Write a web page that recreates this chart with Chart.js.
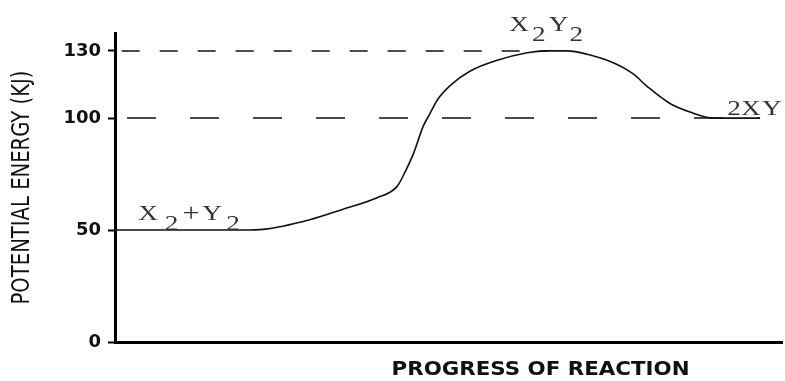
<!DOCTYPE html>
<html>
<head>
<meta charset="utf-8">
<script src="https://cdn.jsdelivr.net/npm/chart.js@4/dist/chart.umd.min.js"></script>
<style>
  html, body { margin: 0; padding: 0; background: #fff; }
  #wrap { width: 785px; height: 381px; }
</style>
</head>
<body>
<div id="wrap"><canvas id="chart"></canvas></div>
<script>
// data (progress 0-100 along the x axis, energy in kJ)
const progress = [0, 19.2, 22.2, 29.2, 34.2, 39.3, 42.3, 43.5, 44.7, 46.2, 47.2, 48.4, 50.2, 53.2, 57.3, 61.8, 64.8, 67.8, 70.8, 74.7, 77.7, 79.8, 83.2, 86.2, 89.7, 96.7];
const energy = [50, 50, 50.3, 54.6, 59.3, 64.4, 69.5, 76, 83.8, 96.3, 101.9, 108.4, 114.4, 120.9, 125.8, 129.2, 130, 130, 128.5, 124.7, 119.7, 114.1, 106.5, 102.7, 100, 100];
const yTicks = [0, 50, 100, 130];

// dashed reference levels
const levelValues = [130, 100];
const levelStart = [1, 1.8];
const levelEnd = [64.8, 96.7];

const yTitle = 'POTENTIAL ENERGY (KJ)';
const xTitle = 'PROGRESS OF REACTION';

// chemical labels: text parts and which of them are subscripts
const reactantParts = ['X', '2', '+', 'Y', '2'];
const reactantSub = [0, 1, 0, 0, 1];
const complexParts = ['X', '2', 'Y', '2'];
const complexSub = [0, 1, 0, 1];
const productParts = ['2', 'X', 'Y'];
const productSub = [0, 0, 0];

function levelDataset(i) {
    return {
        data: [{ x: levelStart[i], y: levelValues[i] }, { x: levelEnd[i], y: levelValues[i] }],
        borderColor: '#111',
        borderWidth: 1.5,
        borderDash: i === 0 ? [18, 20] : [29, 34],
        pointRadius: 0
    };
}

// draw a label glyph by glyph (wide, typewriter look), subscripts dropped
function drawChem(ctx, parts, subs, offsets, x, y) {
    ctx.save();
    ctx.font = '21px "Liberation Serif", "DejaVu Serif", serif';
    ctx.fillStyle = '#333';
    ctx.textAlign = 'center';
    ctx.textBaseline = 'alphabetic';
    parts.forEach((p, i) => {
        ctx.save();
        ctx.translate(x + offsets[i], y + (subs[i] ? 10 : 0) + (p === '+' ? 1 : 0));
        if (p === '+') {
            // the plus sign is drawn large in the original
            ctx.scale(1.45, 1.15);
        } else {
            ctx.scale(1.3, 1);
        }
        ctx.fillText(p, 0, 0);
        ctx.restore();
    });
    ctx.restore();
}

// text squeezed/stretched to a given width
function drawFitText(ctx, text, cx, cy, width, font, rotate) {
    ctx.save();
    ctx.font = font;
    ctx.fillStyle = '#111';
    ctx.textAlign = 'center';
    ctx.textBaseline = 'middle';
    ctx.translate(cx, cy);
    if (rotate) ctx.rotate(-Math.PI / 2);
    const w = ctx.measureText(text).width;
    ctx.scale(width / w, 1);
    ctx.fillText(text, 0, 0);
    ctx.restore();
}

const labelsPlugin = {
    id: 'labels',
    afterDraw(chart) {
        const ctx = chart.ctx;
        const xs = chart.scales.x;
        const ys = chart.scales.y;
        const area = chart.chartArea;

        drawChem(ctx, reactantParts, reactantSub, [0, 23.5, 43, 64, 85],
            xs.getPixelForValue(4.95), ys.getPixelForValue(50) - 10);
        drawChem(ctx, complexParts, complexSub, [0, 19.5, 39.5, 57],
            xs.getPixelForValue(60.6), ys.getPixelForValue(130) - 20);
        drawChem(ctx, productParts, productSub, [0, 17, 38],
            xs.getPixelForValue(92.8), ys.getPixelForValue(100) - 3);

        drawFitText(ctx, yTitle, 23, (area.top + area.bottom) / 2, 234,
            '24px "DejaVu Sans Condensed", "DejaVu Sans", sans-serif', true);
        drawFitText(ctx, xTitle, area.left + (area.right - area.left) * 0.638, 370, 298,
            'bold 20px "DejaVu Sans", sans-serif', false);
    }
};

new Chart(document.getElementById('chart'), {
    type: 'line',
    data: {
        datasets: [
            {
                data: progress.map((p, i) => ({ x: p, y: energy[i] })),
                borderColor: '#111',
                borderWidth: 1.6,
                pointRadius: 0,
                cubicInterpolationMode: 'monotone'
            },
            levelDataset(0),
            levelDataset(1)
        ]
    },
    options: {
        responsive: true,
        maintainAspectRatio: false,
        animation: false,
        layout: { padding: { top: 33, right: 3, left: 0, bottom: 0 } },
        plugins: {
            legend: { display: false },
            tooltip: { enabled: false }
        },
        scales: {
            x: {
                type: 'linear',
                min: 0,
                max: 100,
                grid: { display: false },
                ticks: { display: false },
                border: { display: true, color: '#000', width: 3 },
                afterFit: (scale) => { scale.height = 39; }
            },
            y: {
                type: 'linear',
                min: 0,
                max: 138,
                afterBuildTicks: (scale) => { scale.ticks = yTicks.map(v => ({ value: v })); },
                grid: { drawOnChartArea: false, tickLength: 7, tickWidth: 2, tickColor: '#000' },
                border: { display: true, color: '#000', width: 3 },
                ticks: {
                    color: '#111',
                    padding: 7,
                    font: { family: '"DejaVu Sans", sans-serif', size: 18, weight: 'bold' }
                },
                afterFit: (scale) => { scale.width = 115; }
            }
        }
    },
    plugins: [labelsPlugin]
});
</script>
</body>
</html>
